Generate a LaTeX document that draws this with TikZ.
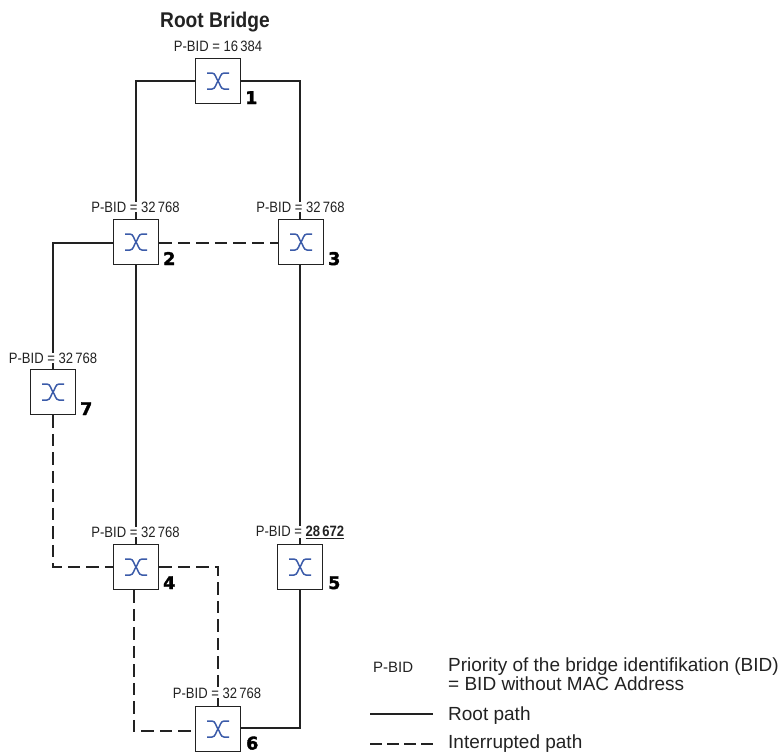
\documentclass[tikz,border=0pt]{standalone}
\usepackage{fontspec}
\setmainfont{Liberation Sans}
\newfontfamily\numfont[FakeBold=2]{DejaVu Sans Bold}
\definecolor{ink}{HTML}{222222}
\definecolor{glyph}{HTML}{3B5BA9}
\tikzset{
  sw/.style={draw=ink,line width=1.6pt,fill=white,minimum size=45pt,inner sep=0pt,
    path picture={
      \begin{scope}[shift={(path picture bounding box.center)},draw=glyph,line width=1.5pt]
        \draw (-11,-8) -- (-6,-8) .. controls (-2.5,-8) and (-2,-2.5) .. (0,0) .. controls (2,2.5) and (2.5,8) .. (6,8) -- (11,8);
        \draw (-11,8) -- (-6,8) .. controls (-2.5,8) and (-2,2.5) .. (0,0) .. controls (2,-2.5) and (2.5,-8) .. (6,-8) -- (11,-8);
      \end{scope}}},
  lnk/.style={draw=ink,line width=1.3pt},
  dsh/.style={lnk,dash pattern=on 12.5pt off 6pt},
  bid/.style={font=\fontsize{15}{15}\selectfont,text=ink,fill=white,inner ysep=0pt,inner xsep=1pt,xscale=0.87},
  num/.style={font=\numfont\fontsize{17.5}{17.5}\selectfont,text=black,inner sep=0pt,anchor=base west},
  leg/.style={font=\fontsize{19}{19}\selectfont,text=ink,inner sep=0pt,anchor=base west,align=left}
}
\begin{document}
\begin{tikzpicture}[x=1pt,y=-1pt]
\useasboundingbox (0,0) rectangle (782,753);
% switches
\node[sw] (s1) at (218,81) {};
\node[sw] (s2) at (136,242) {};
\node[sw] (s3) at (301,242) {};
\node[sw] (s7) at (53,392) {};
\node[sw] (s4) at (136,567) {};
\node[sw] (s5) at (300,567) {};
\node[sw] (s6) at (218,729) {};
% corner points
\coordinate (c12) at (136,81);
\coordinate (c13) at (300,81);
\coordinate (c27) at (53,243);
\coordinate (c74) at (53,567);
\coordinate (c46a) at (134,731);
\coordinate (c46b) at (218,567);
\coordinate (c56) at (300,728);
% connectors
\draw[lnk] (s1.west) -- (c12) -- (s2.north);
\draw[lnk] (s1.east) -- (c13) -- (s3.north -| c13);
\draw[lnk] (s2.west |- c27) -- (c27) -- (s7.north);
\draw[dsh] (s2.east |- c27) -- (s3.west |- c27);
\draw[lnk] (s2.south) -- (s4.north);
\draw[lnk] (s3.south -| c13) -- (s5.north);
\draw[dsh] (s7.south) -- (c74) -- (s4.west);
\draw[dsh] (s4.south -| c46a) -- (c46a) -- (s6.west |- c46a);
\draw[dsh] (s4.east) -- (c46b) -- (s6.north);
\draw[lnk] (s5.south) -- (c56) -- (s6.east |- c56);
% labels
\node[font=\bfseries\fontsize{21.3}{21.3}\selectfont,text=ink,xscale=0.9] (title) at (215,22) {Root Bridge};
\node[bid] (b1) at (218,46) {P-BID = 16\,384};
\node[bid] (b2) at (135.5,207) {P-BID = 32\,768};
\node[bid] (b3) at (300.5,207) {P-BID = 32\,768};
\node[bid] (b7) at (53,358) {P-BID = 32\,768};
\node[bid] (b4) at (135.5,532) {P-BID = 32\,768};
\node[bid] (b5) at (300,532) {P-BID = \textbf{\underline{28\,672}}};
\node[bid] (b6) at (217,693) {P-BID = 32\,768};
\node[num] (n1) at (245,104) {1};
\node[num] (n2) at (163,265) {2};
\node[num] (n3) at (328,265) {3};
\node[num] (n7) at (80,415) {7};
\node[num] (n4) at (163,589) {4};
\node[num] (n5) at (328,589) {5};
\node[num] (n6) at (246,749.5) {6};
% legend
\node[font=\fontsize{15}{15}\selectfont,text=ink,inner sep=0pt,anchor=base west] (lp) at (373,672) {P-BID};
\node[leg] (l1) at (448,671) {Priority of the bridge identifikation (BID)};
\node[leg] (l2) at (448,690) {= BID without MAC Address};
\node[leg] (l3) at (448,720) {Root path};
\node[leg] (l4) at (448,748.5) {Interrupted path};
\coordinate (k1) at (370,714);
\coordinate (k1e) at (433,714);
\coordinate (k2) at (370,744);
\coordinate (k2e) at (433,744);
\draw[lnk] (k1) -- (k1e);
\draw[lnk,dash pattern=on 12pt off 5pt] (k2) -- (k2e);
\end{tikzpicture}
\end{document}
